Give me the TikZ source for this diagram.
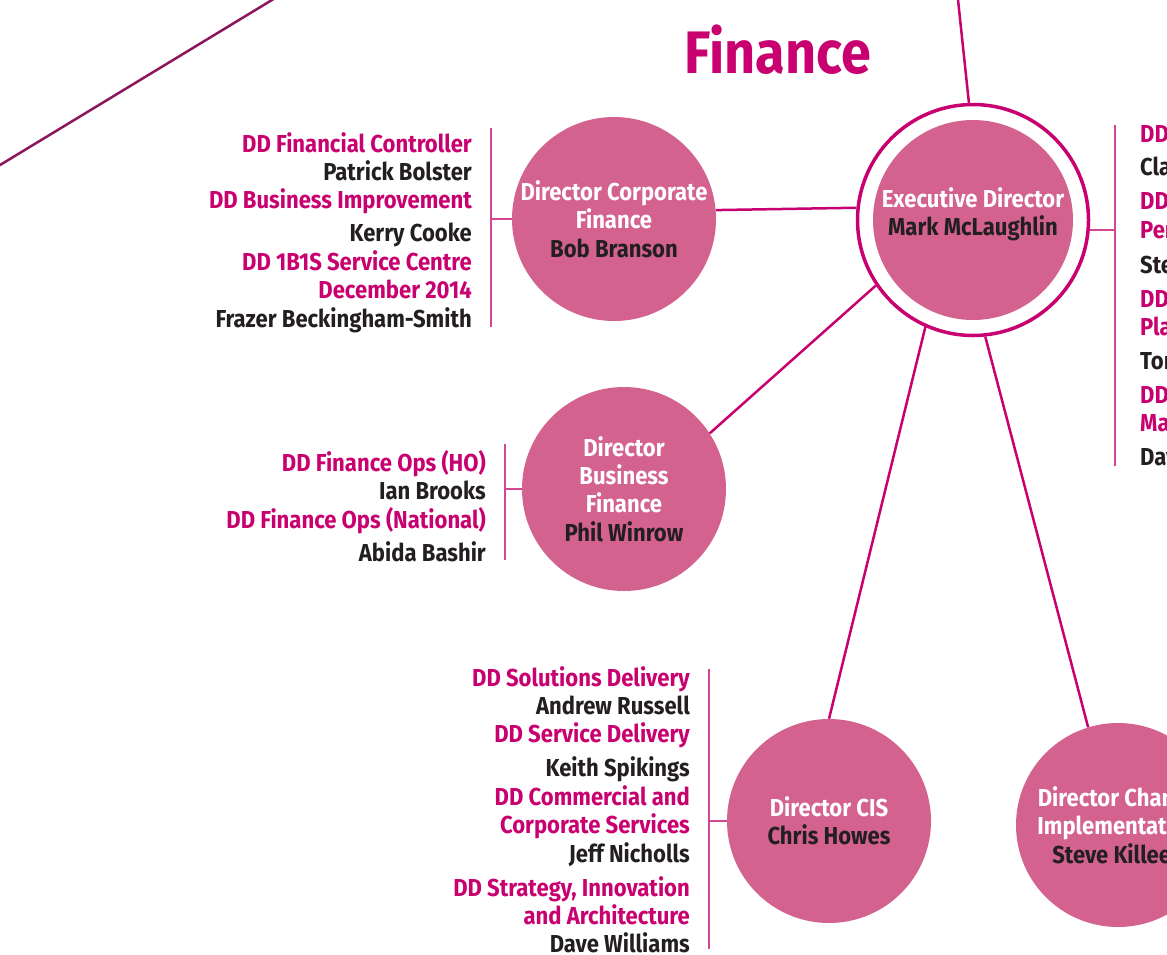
\documentclass[tikz,border=0pt]{standalone}
\usepackage{fontspec}
\setmainfont{Fira Sans}[FakeStretch=0.9]
\usepackage{tikz}
\usetikzlibrary{positioning}
\definecolor{fmagenta}{RGB}{200,0,112}
\definecolor{fpink}{RGB}{211,98,143}
\definecolor{fdark}{RGB}{35,31,32}
\definecolor{fplum}{RGB}{140,22,92}
\definecolor{fbar}{RGB}{212,70,146}
\newcommand{\stafffont}{\fontsize{24.5}{28.4}\selectfont\bfseries}
\newcommand{\ddrole}[1]{\textcolor{fmagenta}{#1}}
\newcommand{\who}[1]{\textcolor{fdark}{#1}}
\tikzstyle{person} = [circle, fill=fpink, minimum size=204pt, inner sep=0pt,
    text=white, align=center, font=\stafffont]
\tikzstyle{ring} = [circle, draw=fmagenta, line width=3.5pt, minimum size=231pt, inner sep=0pt]
\tikzstyle{staff} = [align=right, inner sep=0pt, text=fdark, font=\stafffont]
\tikzstyle{line} = [draw=fmagenta, line width=2.5pt]
\tikzstyle{bar} = [draw=fbar, line width=1.5pt]

\begin{document}
\begin{tikzpicture}[x=1pt, y=-1pt]
    \useasboundingbox (0,0) rectangle (1167,954);
    % Place nodes
    \node [font=\fontsize{60}{62}\selectfont\bfseries, text=fmagenta] (title) at (778,50) {Finance};
    \node [ring] (ring) at (973,220) {};
    \node [person, minimum size=200pt] (exec) at (ring.center) {};
    \node [text=white, align=center, font=\stafffont, yshift=6pt] (exectext) at (exec.center) {Executive Director\\\who{Mark McLaughlin}};
    \node [person] (corp) at (614,219) {Director Corporate\\Finance\\\who{Bob Branson}};
    \node [person] (bus) at (624,489) {Director\\Business\\Finance\\\who{Phil Winrow}};
    \node [person] (cis) at (829,821) {Director CIS\\\who{Chris Howes}};
    \node [person] (chg) at (1118,825) {Director Change\\Implementation\\\who{Steve Killeen}};
    % Staff lists
    \node [staff, anchor=north east] (corplist) at (472,132) {\ddrole{DD Financial Controller}\\Patrick Bolster\\\ddrole{DD Business Improvement}\\[4.6pt]Kerry Cooke\\\ddrole{DD 1B1S Service Centre}\\\ddrole{December 2014}\\Frazer Beckingham-Smith};
    \node [staff, anchor=north east] (buslist) at (486,450) {\ddrole{DD Finance Ops (HO)}\\Ian Brooks\\\ddrole{DD Finance Ops (National)}\\[4.6pt]Abida Bashir};
    \node [staff, anchor=north east] (cislist) at (690,666) {\ddrole{DD Solutions Delivery}\\Andrew Russell\\\ddrole{DD Service Delivery}\\[5.6pt]Keith Spikings\\\ddrole{DD Commercial and}\\\ddrole{Corporate Services}\\Jeff Nicholls\\[5.6pt]\ddrole{DD Strategy, Innovation}\\\ddrole{and Architecture}\\Dave Williams};
    \node [staff, align=left, anchor=north west] (execlist) at (1140,125.5) {\ddrole{DD}\\[4.6pt]Cla\\[5.6pt]\ddrole{DD}\\\ddrole{Per}\\[6.6pt]Ste\\[5.6pt]\ddrole{DD}\\\ddrole{Pla}\\[5.6pt]Tor\\[5.6pt]\ddrole{DD}\\\ddrole{Ma}\\[5.6pt]Dav};
    % Bars
    \coordinate (corpbarT) at (491,128);
    \coordinate (corpbarB) at (491,327);
    \coordinate (busbarT) at (505,444);
    \coordinate (busbarB) at (505,560);
    \coordinate (cisbarT) at (709,669);
    \coordinate (cisbarB) at (709,949);
    \coordinate (execbarT) at (1115,125);
    \coordinate (execbarB) at (1115,466);
    \coordinate (topend) at (957.4,-6);
    \coordinate (plumA) at (-10,171.1);
    \coordinate (plumB) at (282,-6.1);
    \path [bar] (corpbarT) -- (corpbarB);
    \path [bar] (corp.west) -- (corp.west -| corpbarT);
    \path [bar] (busbarT) -- (busbarB);
    \path [bar] (bus.west) -- (bus.west -| busbarT);
    \path [bar] (cisbarT) -- (cisbarB);
    \path [bar] (cis.west) -- (cis.west -| cisbarT);
    \path [bar] (execbarT) -- (execbarB);
    \path [bar] (ring.-5) -- (ring.-5 -| execbarT);
    % Draw edges
    \path [line] (ring.92) -- (topend);
    \path [line] (corp.5) -- (ring.174);
    \path [line] (bus.33) -- (ring.214);
    \path [line] (cis.north) -- (ring.246);
    \path [line] (chg.107) -- (ring.276);
    \path [line, draw=fplum] (plumA) -- (plumB);
\end{tikzpicture}
\end{document}
